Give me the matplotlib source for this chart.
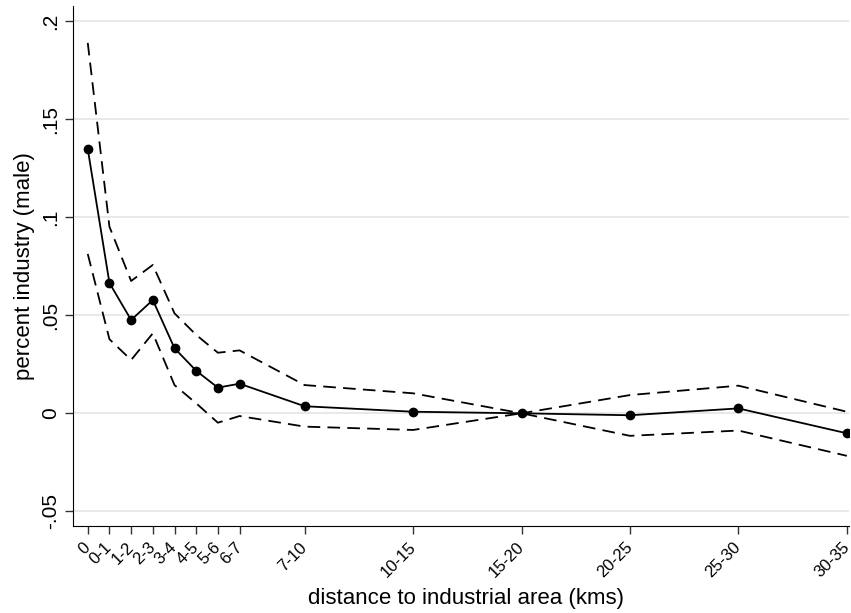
import matplotlib
matplotlib.use("Agg")
import matplotlib.pyplot as plt
from matplotlib.transforms import ScaledTranslation

plt.rcParams['font.family'] = ['Liberation Sans', 'DejaVu Sans']

# distance bins and their upper bound (used as x position)
bins = ["0", "0-1", "1-2", "2-3", "3-4", "4-5", "5-6", "6-7",
        "7-10", "10-15", "15-20", "20-25", "25-30", "30-35"]
bin_pos = [0, 1, 2, 3, 4, 5, 6, 7, 10, 15, 20, 25, 30, 35]

coef = [0.1349, 0.0665, 0.0476, 0.0578, 0.0332, 0.0217, 0.0131, 0.0151,
        0.0036, 0.0008, 0.0, -0.0010, 0.0025, -0.0102]
ci_hi = [0.1890, 0.0952, 0.0675, 0.0757, 0.0510, 0.0400, 0.0309, 0.0321,
         0.0144, 0.0102, 0.0, 0.0093, 0.0141, 0.0008]
ci_lo = [0.0813, 0.0378, 0.0272, 0.0408, 0.0144, 0.0051, -0.0048, -0.0014,
         -0.0068, -0.0085, 0.0, -0.0115, -0.0088, -0.0217]

yticks = [-0.05, 0, 0.05, 0.1, 0.15, 0.2]
ytick_labels = ["-.05", "0", ".05", ".1", ".15", ".2"]

fig = plt.figure(figsize=(8.51, 6.13), dpi=100)
ax = fig.add_axes([73 / 851, 1 - 526 / 613, 776 / 851, 520 / 613])

ax.plot(bin_pos, ci_hi, color='black', lw=1.3, ls=(0, (7, 4)))
ax.plot(bin_pos, ci_lo, color='black', lw=1.3, ls=(0, (7, 4)))
ax.plot(bin_pos, coef, color='black', lw=1.3, marker='o', ms=6)

ax.set_xlim(-0.68, 35.1)
ax.set_ylim(-0.0575, 0.2078)

ax.set_yticks(yticks)
ax.set_yticklabels(ytick_labels, rotation=90, va='center', fontsize=15)

# slanted x labels drawn as text so they can sit just below-left of the tick
ax.set_xticks(bin_pos)
ax.set_xticklabels([])
lab_off = ScaledTranslation(-1 / 100, -18 / 100, fig.dpi_scale_trans)
for p, b in zip(bin_pos, bins):
    ax.text(p, 0, b, transform=ax.get_xaxis_transform() + lab_off,
            rotation=45, rotation_mode='anchor', ha='right',
            va='center_baseline', fontsize=12, clip_on=False)

ax.yaxis.grid(True, color='#e6e6e6', lw=1.3)
ax.set_axisbelow(True)

ax.spines['top'].set_visible(False)
ax.spines['right'].set_visible(False)
ax.tick_params(direction='out', length=6, width=1, color='#333333')
ax.tick_params(axis='y', pad=3.5)

ax.set_ylabel("percent industry (male)", fontsize=16, labelpad=4)
ax.set_xlabel("distance to industrial area (kms)", fontsize=16, va='center')
ax.xaxis.set_label_coords(0.506, -0.1385)

fig.savefig("out.png", dpi=100)
